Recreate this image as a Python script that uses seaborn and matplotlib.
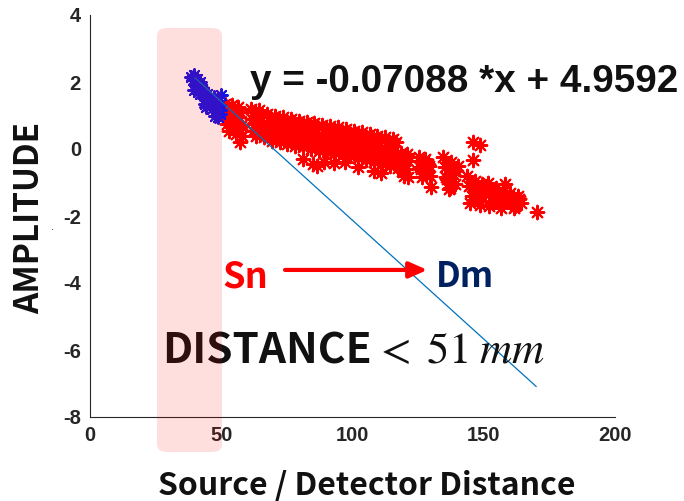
import numpy as np
import pandas as pd
import matplotlib
matplotlib.use("Agg")
import matplotlib.pyplot as plt
import seaborn as sns
from matplotlib.patches import FancyBboxPatch

# ---- data ----
blue_x = [38.5, 39.2, 39.8, 40.3, 40.9, 41.4, 41.8, 42.3, 39.5, 40.6, 41.2, 42.0,
          42.8, 43.4, 44.0, 44.6, 45.1, 43.7, 44.3, 45.5, 46.0, 46.5,
          47.2, 47.8, 48.3, 48.9, 49.4, 49.8, 47.5, 48.6, 49.2, 49.6]
blue_y = [2.15, 2.05, 2.20, 1.95, 2.10, 1.90, 2.00, 1.85, 1.75, 1.80, 1.70, 1.65,
          1.80, 1.70, 1.55, 1.65, 1.45, 1.35, 1.25, 1.50, 1.40, 1.20,
          1.55, 1.45, 1.35, 1.20, 1.05, 1.60, 1.00, 0.95, 1.30, 1.15]

red_x = [
    51.5, 51.8, 52.0, 52.3, 52.6, 53.0,
    54.0, 54.3, 54.6, 55.0, 55.3, 55.7,
    56.5, 56.8, 57.0, 57.3, 57.6, 58.0, 57.2,
    61.5, 61.8, 62.2, 62.5, 62.8, 63.2,
    64.5, 64.8, 65.2, 65.5, 65.8, 66.2,
    67.5, 67.8, 68.2, 68.5, 68.8, 69.2,
    70.5, 70.8, 71.2, 71.5, 71.8, 72.2,
    73.5, 73.8, 74.2, 74.5, 74.8, 75.2,
    76.5, 76.8, 77.2, 77.5, 77.8, 78.2,
    79.5, 79.8, 80.2, 80.5, 80.8, 81.2, 81.0,
    82.5, 82.8, 83.2, 83.5, 83.8, 84.2,
    85.5, 85.8, 86.2, 86.5, 86.8, 87.2, 85.0, 86.3,
    88.5, 88.8, 89.2, 89.5, 89.8, 90.2, 89.0,
    91.5, 91.8, 92.2, 92.5, 92.8, 93.2, 93.0,
    94.5, 94.8, 95.2, 95.5, 95.8, 96.2, 97.0,
    97.5, 97.8, 98.2, 98.5, 98.8, 99.2,
    100.5, 100.8, 101.2, 101.5, 101.8, 102.2, 102.0,
    103.5, 103.8, 104.2, 104.5, 104.8, 105.2,
    106.5, 106.8, 107.2, 107.5, 107.8, 108.2, 108.0,
    109.5, 109.8, 110.2, 110.5, 110.8, 111.2, 111.0,
    112.5, 112.8, 113.2, 113.5, 113.8, 114.2,
    115.5, 115.8, 116.2, 116.5, 116.8, 117.2,
    118.5, 119.0, 119.5, 120.0, 120.5, 121.0, 119.2, 120.6, 121.0,
    125.2, 125.8, 126.5, 127.2, 128.0, 128.8, 129.5, 126.0, 127.5, 129.0, 130.0,
    134.5, 135.2, 136.0, 136.8, 137.6, 138.4, 139.2, 140.0, 135.5, 137.0, 138.8,
    145.9, 148.6, 145.9,
    143.5, 144.5, 145.5, 146.5, 147.5, 148.5, 149.5, 150.5, 144.8, 147.0, 148.6,
    151.5, 152.5, 153.5, 154.5, 155.5, 156.5, 157.5, 158.5, 152.0, 155.0, 158.0,
    160.0, 161.0, 162.0, 163.0, 164.0, 161.5, 163.5,
    170.3,
]
red_y = [
    1.35, 1.05, 0.75, 1.25, 0.90, 0.55,
    1.30, 1.00, 0.65, 1.20, 0.85, 0.45,
    1.25, 0.95, 0.60, 1.10, 0.70, 0.40, 0.20,
    1.20, 0.90, 0.55, 1.10, 0.75, 0.40,
    1.15, 0.85, 0.50, 1.05, 0.70, 0.35,
    1.05, 0.75, 0.45, 0.95, 0.60, 0.25,
    1.00, 0.70, 0.40, 0.90, 0.55, 0.20,
    0.95, 0.65, 0.30, 0.85, 0.50, 0.15,
    0.90, 0.60, 0.25, 0.80, 0.45, 0.10,
    0.85, 0.55, 0.20, 0.75, 0.40, 0.05, -0.30,
    0.80, 0.50, 0.15, 0.70, 0.35, 0.00,
    0.78, 0.45, 0.10, 0.68, 0.30, -0.05, -0.45, -0.50,
    0.72, 0.40, 0.05, 0.62, 0.25, -0.10, -0.40,
    0.68, 0.35, 0.00, 0.58, 0.20, -0.12, -0.42,
    0.65, 0.30, -0.05, 0.55, 0.15, -0.18, -0.40,
    0.60, 0.25, -0.10, 0.50, 0.12, -0.22,
    0.55, 0.20, -0.15, 0.45, 0.05, -0.28, -0.55,
    0.50, 0.15, -0.20, 0.40, 0.00, -0.32,
    0.45, 0.10, -0.25, 0.35, -0.05, -0.38, -0.65,
    0.40, 0.05, -0.30, 0.30, -0.10, -0.45, -0.72,
    0.35, 0.00, -0.35, 0.25, -0.15, -0.52,
    0.30, -0.05, -0.40, 0.20, -0.20, -0.58,
    -0.12, -0.45, -0.80, -0.25, -0.60, -0.35, -0.70, -0.15, -0.85,
    -0.25, -0.55, -0.85, -0.35, -0.70, -0.45, -0.80, -0.60, -0.30, -0.50, -1.13,
    -0.25, -0.55, -0.90, -1.20, -0.40, -0.75, -1.05, -0.50, -0.85, -1.15, -0.65,
    0.21, 0.12, -0.33,
    -0.80, -1.10, -1.40, -0.95, -1.25, -1.55, -1.05, -1.35, -1.60, -1.20, -1.67,
    -1.00, -1.30, -1.60, -1.15, -1.45, -1.75, -1.25, -1.55, -1.70, -1.40, -1.05,
    -1.30, -1.55, -1.70, -1.40, -1.60, -1.75, -1.50,
    -1.88,
]

fit_x = [40, 170]
slope = -0.07088
intercept = 4.9592
fit_y = [slope * v + intercept for v in fit_x]

x_ticks = [0, 50, 100, 150, 200]
y_ticks = [-8, -6, -4, -2, 0, 2, 4]

# ---- figure ----
sns.set_theme(style="white")
plt.rcParams["font.family"] = ["Liberation Sans", "DejaVu Sans"]
plt.rcParams["mathtext.fontset"] = "stix"

fig = plt.figure(figsize=(6.84, 5.01), dpi=100)
ax = fig.add_axes([90 / 684, 84 / 501, 525 / 684, 402 / 501])

df_red = pd.DataFrame({"x": red_x, "y": red_y})
df_blue = pd.DataFrame({"x": blue_x, "y": blue_y})
ast = (8, 2, 0)
sns.scatterplot(data=df_red, x="x", y="y", ax=ax, marker=ast, color="#ff0000",
                s=95, linewidth=1.5, edgecolor="#ff0000", zorder=2)
sns.scatterplot(data=df_blue, x="x", y="y", ax=ax, marker=ast, color="#1414e6",
                s=85, linewidth=1.5, edgecolor="#1414e6", zorder=3)
sns.lineplot(x=fit_x, y=fit_y, ax=ax, color="#0072BD", linewidth=0.9, zorder=4)

ax.set_xlim(0, 200)
ax.set_ylim(-8, 4)
ax.set_xticks(x_ticks)
ax.set_yticks(y_ticks)
ax.set_xticklabels([str(v) for v in x_ticks], fontsize=14.5, fontweight="bold", color="#262626")
ax.set_yticklabels([str(v) for v in y_ticks], fontsize=14.5, fontweight="bold", color="#262626")
ax.tick_params(direction="in", length=5, width=0.8, color="#262626", pad=6.5)
sns.despine(ax=ax)
for sp in ["left", "bottom"]:
    ax.spines[sp].set_color("#262626")
    ax.spines[sp].set_linewidth(0.8)
ax.set_xlabel("")
ax.set_ylabel("")

lab_font = ["Noto Sans CJK KR", "DejaVu Sans"]
fig.text(367 / 684, 1 - 495 / 501, "Source / Detector Distance", ha="center", va="baseline",
         fontsize=23, fontweight="bold", family=lab_font, color="#111111")
fig.text(30 / 684, 1 - 218 / 501, "AMPLITUDE", ha="center", va="center", rotation=90,
         fontsize=24, fontweight="bold", family=lab_font, color="#111111")
fig.text(53 / 684, 1 - 227 / 501, ".", ha="center", va="center", fontsize=8, color="#333333")

# equation
ax.text(61, 1.70, "y = -0.07088 *x + 4.9592", fontsize=27.8, fontweight="bold",
        ha="left", va="baseline", color="#111111", zorder=6)

# Sn -> Dm
ax.text(50.3, -4.12, "Sn", fontsize=26, fontweight="bold", family=lab_font,
        color="#ff0000", ha="left", va="baseline", zorder=6)
ax.text(131.8, -4.12, "Dm", fontsize=25, fontweight="bold", family=lab_font,
        color="#002060", ha="left", va="baseline", zorder=6)
ax.annotate("", xy=(128.5, -3.61), xytext=(74.3, -3.61),
            arrowprops=dict(arrowstyle="-|>,head_length=0.9,head_width=0.4",
                            color="#ff0000", lw=3, shrinkA=0, shrinkB=0), zorder=6)

ax.text(27.5, -6.39, "DISTANCE", fontsize=30.5, fontweight="bold", family=lab_font,
        color="#111111", ha="left", va="baseline", zorder=6)
ax.text(108.0, -6.39, r"$<\;51\;mm$", fontsize=32,
        color="#111111", ha="left", va="baseline", zorder=6)

# pink highlight box (overlay)
box = FancyBboxPatch((157 / 684, 1 - 452 / 501), 65 / 684, 424 / 501,
                     boxstyle="round,pad=0,rounding_size=0.015",
                     transform=fig.transFigure, facecolor=(1, 0, 0, 0.13),
                     edgecolor="none", zorder=10)
fig.patches.append(box)

fig.savefig("out.png", dpi=100)
